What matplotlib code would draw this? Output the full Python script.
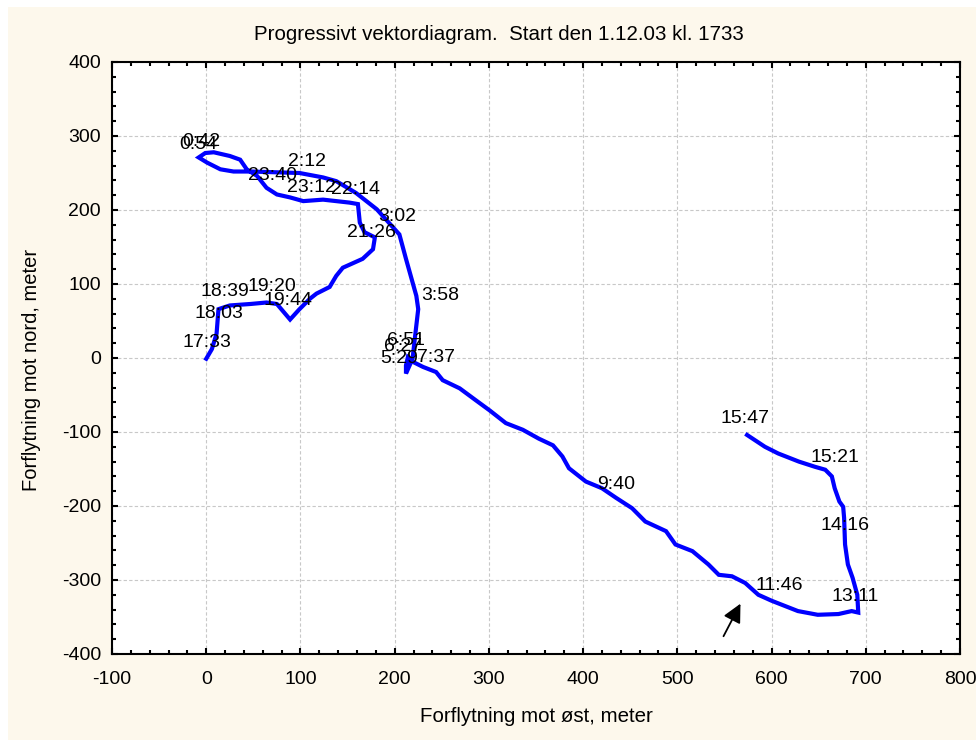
import matplotlib
matplotlib.use("Agg")
import matplotlib.pyplot as plt
from matplotlib.patches import Rectangle
from matplotlib.ticker import MultipleLocator

# Progressive vector diagram, east/north displacement in metres
east = [0, 6, 11, 13, 25, 47, 64, 75, 89, 99, 110, 117, 131, 138, 145, 166,
        177, 179, 168, 163, 161, 152, 124, 103, 89, 75, 64, 54, 43, 36, 25, 8,
        -1, -8, 1, 15, 29, 47, 99, 124, 138, 159, 181, 205, 212, 223, 225, 223,
        221, 219, 212, 212, 214, 219, 230, 244, 251, 269, 286, 301, 318, 336,
        353, 368, 378, 385, 403, 420,
        435, 452, 466, 488, 498, 516, 533, 544, 558, 572, 586, 600, 628, 649,
        671, 685, 692, 691, 686, 681, 678, 677, 676, 672, 667, 664, 657, 646,
        629, 607, 593, 574]
north = [-1, 12, 33, 66, 71, 73, 75, 73, 52, 66, 80, 87, 96, 111, 122, 134,
         147, 163, 170, 183, 208, 210, 214, 212, 217, 221, 230, 246, 255, 268,
         273, 278, 277, 271, 264, 255, 252, 252, 250, 244, 239, 223, 201, 167,
         134, 84, 66, 44, 22, -1, -21, -10, 1, -5, -12, -19, -30, -41, -57, -71,
         -88, -97, -109, -118, -133, -149, -167, -176, -189, -203, -221, -234,
         -252, -261, -279, -293, -295,
         -304, -320, -328, -342, -347, -346, -342, -344, -320, -297, -279, -252,
         -216, -201, -194, -176, -160, -151, -147, -140, -129, -120, -104]

# time labels (text centre in data coords)
time_labels = ["0:42", "0:54", "2:12", "23:40", "23:12", "22:14", "3:02",
               "21:26", "18:39", "19:20", "19:44", "18:03", "17:33", "3:58",
               "6:51", "6:27", "5:29", "7:37", "9:40", "11:46", "13:11",
               "14:16", "15:21", "15:47"]
label_x = [-5, -8, 107, 70, 112, 158, 203, 175, 20, 70, 87, 13, 1, 248,
           212, 209, 205, 244, 435, 608, 689, 678, 667, 572]
label_y = [293, 289, 266, 246, 230, 228, 191, 169, 90, 96, 78, 60, 21, 84,
           24, 15, -1, 1, -171, -308, -322, -227, -135, -82]

arrow_tail = (549, -376)
arrow_head = (567, -332)

plt.rcParams['font.family'] = ['Liberation Sans', 'DejaVu Sans']
plt.rcParams['axes.unicode_minus'] = False

fig = plt.figure(figsize=(9.76, 7.40), dpi=100)
fig.patch.set_facecolor('white')
fig.add_artist(Rectangle((8 / 976, 0), 1 - 8 / 976, 1 - 7 / 740,
                         transform=fig.transFigure, facecolor='#fdf8ec',
                         edgecolor='none', zorder=-10))

ax = fig.add_axes([112 / 976, 1 - 654 / 740, 848 / 976, 592 / 740])
ax.set_facecolor('white')

ax.plot(east, north, color='#0000ff', lw=3, solid_joinstyle='miter', zorder=3)

for txt, x, y in zip(time_labels, label_x, label_y):
    ax.text(x, y, txt, ha='center', va='center', fontsize=14, color='black', zorder=4)

ax.annotate('', xy=arrow_head, xytext=arrow_tail,
            arrowprops=dict(arrowstyle='-|>', color='black', lw=1.3,
                            mutation_scale=28, shrinkA=0, shrinkB=0), zorder=5)

ax.set_xlim(-100, 800)
ax.set_ylim(-400, 400)
ax.xaxis.set_major_locator(MultipleLocator(100))
ax.yaxis.set_major_locator(MultipleLocator(100))
ax.xaxis.set_minor_locator(MultipleLocator(20))
ax.yaxis.set_minor_locator(MultipleLocator(20))
ax.tick_params(which='both', direction='in', top=True, right=True, width=1.5,
               labelsize=14, colors='black')
ax.tick_params(which='major', length=4)
ax.tick_params(axis='x', which='major', pad=12)
ax.tick_params(axis='y', which='major', pad=8)
ax.tick_params(which='minor', length=3)
ax.grid(True, which='major', linestyle=(0, (3, 2)), color='#c8c8c8', lw=0.8)
ax.set_axisbelow(True)
for s in ax.spines.values():
    s.set_linewidth(1.5)
    s.set_color('black')

fig.text(0.511, 1 - 34 / 740, 'Progressivt vektordiagram.  Start den 1.12.03 kl. 1733',
         ha='center', va='center', fontsize=14.8)
fig.text(0.55, 1 - 716 / 740, 'Forflytning mot øst, meter', ha='center', va='center',
         fontsize=14.8)
fig.text(32 / 976, 1 - 370 / 740, 'Forflytning mot nord, meter', ha='center', va='center',
         rotation=90, fontsize=14.5)

fig.savefig('out.png', dpi=100)
